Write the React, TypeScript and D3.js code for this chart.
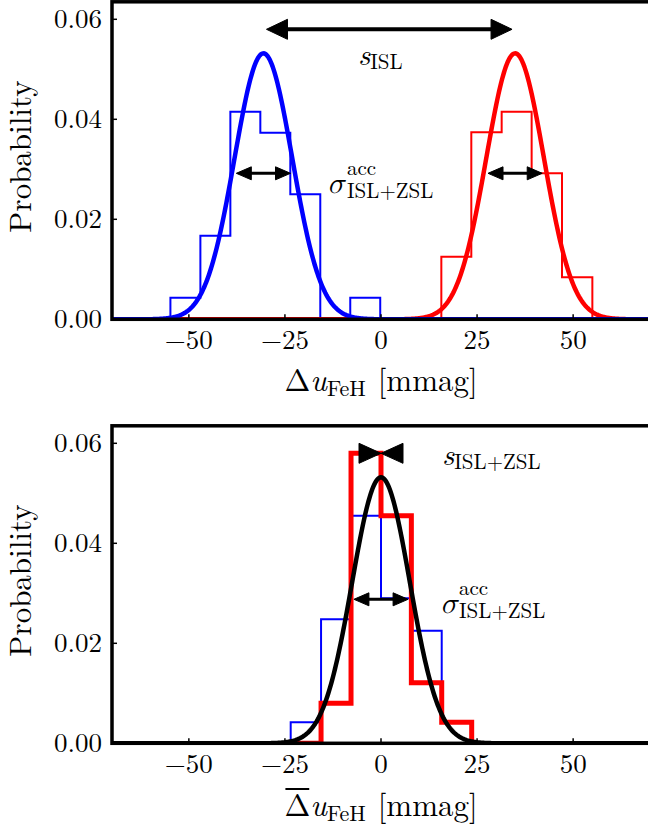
import React, { useEffect, useRef } from "react";
import * as d3 from "d3";

// ---------- data ----------
const xTicks = [-50, -25, 0, 25, 50];
const xTickLabels = ["\u221250", "\u221225", "0", "25", "50"];
const yTicks = [0, 0.02, 0.04, 0.06];
const yTickLabels = ["0.00", "0.02", "0.04", "0.06"];

// top panel histograms (density)
const topBlueEdges = [-54.8, -47.0, -39.2, -31.4, -23.6, -15.8, -8.0, -0.2];
const topBlueDensity = [0.0043, 0.0167, 0.0415, 0.0373, 0.025, 0, 0.0043];
const topRedEdges = [15.7, 23.5, 31.4, 39.2, 47.1, 55.0];
const topRedDensity = [0.0125, 0.0374, 0.0415, 0.0292, 0.0084];

// bottom panel histograms (density)
const botEdges = [-23.5, -15.6, -7.8, 0, 7.9, 15.8, 23.6];
const botBlueDensity = [0.0042, 0.0248, 0.0455, 0.029, 0.0225, 0.0042];
const botRedDensity = [0, 0.008, 0.058, 0.0455, 0.0121, 0.0042];

// gaussian fits: means and common width
const topMeans = [-30.6, 34.9]; // blue, red
const botMean = 0;
const gaussSigma = 7.5;

// annotation arrows (data coords)
const sepArrowX = [-29.8, 34.1];
const sepArrowY = 0.058;
const sigmaArrowHalf = 7.05;
const sigmaArrowY = 0.0292;
const botSigmaArrowY = 0.0288;
const botSepY = 0.058;

// ---------- layout ----------
const W = 648;
const H = 829;
const xMin = -70;
const xMax = 70;
const yMax = 0.0635;
const left = 112;
const right = 650;
const panels = [
  { top: 1.8, bottom: 319.3 },
  { top: 425.8, bottom: 743.3 },
];
const FONT = '"Latin Modern Roman", "Latin Modern Math", "STIX Two Text", "Liberation Serif", serif';
const GREEK = '"Latin Modern Math", "STIX Two Text", "Latin Modern Roman", "Liberation Serif", serif';
const fs = (size: number, extra: React.CSSProperties = {}): React.CSSProperties => ({
  fontFamily: FONT,
  fontSize: size + "px",
  ...extra,
});

const x = d3.scaleLinear().domain([xMin, xMax]).range([left, right]);
const yScales = panels.map((p) => d3.scaleLinear().domain([0, yMax]).range([p.bottom, p.top]));

const gaussX = d3.range(xMin, xMax + 0.001, 0.25);
const pdf = (v: number, mu: number, s: number) =>
  Math.exp(-((v - mu) ** 2) / (2 * s * s)) / (s * Math.sqrt(2 * Math.PI));

function stepPath(edges: number[], vals: number[], y: d3.ScaleLinear<number, number>) {
  const pts: [number, number][] = [[edges[0], 0]];
  vals.forEach((v, i) => {
    pts.push([edges[i], v]);
    pts.push([edges[i + 1], v]);
  });
  pts.push([edges[edges.length - 1], 0]);
  return d3.line<[number, number]>().x((d) => x(d[0])).y((d) => y(d[1]))(pts) || "";
}

function gaussPath(mu: number, y: d3.ScaleLinear<number, number>) {
  return (
    d3
      .line<number>()
      .x((d) => x(d))
      .y((d) => y(pdf(d, mu, gaussSigma)))(gaussX) || ""
  );
}

function Head({ tx, ty, dir, len, wid }: { tx: number; ty: number; dir: number; len: number; wid: number }) {
  const bx = tx - dir * len;
  return (
    <path
      d={`M${tx},${ty} L${bx},${ty - wid / 2} L${bx},${ty + wid / 2} Z`}
      fill="black"
      stroke="black"
      strokeWidth={1}
      strokeLinejoin="round"
    />
  );
}

function DoubleArrow({ x1, x2, yy, len, wid, lw }: { x1: number; x2: number; yy: number; len: number; wid: number; lw: number }) {
  return (
    <g>
      <line x1={x1 + len * 0.6} x2={x2 - len * 0.6} y1={yy} y2={yy} stroke="black" strokeWidth={lw} />
      <Head tx={x1} ty={yy} dir={-1} len={len} wid={wid} />
      <Head tx={x2} ty={yy} dir={1} len={len} wid={wid} />
    </g>
  );
}

function Axes({ idx }: { idx: number }) {
  const p = panels[idx];
  const y = yScales[idx];
  return (
    <g>
      {xTicks.map((t, i) => (
        <g key={"xt" + i}>
          <line x1={x(t)} x2={x(t)} y1={p.bottom} y2={p.bottom - 5} stroke="black" strokeWidth={1.5} />
          <text x={x(t)} y={p.bottom + 29.5} textAnchor="middle" style={fs(27)}>
            {xTickLabels[i]}
          </text>
        </g>
      ))}
      {yTicks.map((t, i) => (
        <g key={"yt" + i}>
          <line x1={left} x2={left + 5} y1={y(t)} y2={y(t)} stroke="black" strokeWidth={1.5} />
          <text x={102} y={y(t) + 9} textAnchor="end" style={fs(27)}>
            {yTickLabels[i]}
          </text>
        </g>
      ))}
      <rect x={left} y={p.top} width={right - left} height={p.bottom - p.top} fill="none" stroke="black" strokeWidth={3.5} />
      <text
        transform={`translate(31,${(p.top + p.bottom) / 2 - 4}) rotate(-90)`}
        textAnchor="middle"
        style={fs(31)}
      >
        Probability
      </text>
    </g>
  );
}

export default function App() {
  const botLabelRef = useRef<SVGTextElement>(null);
  const overRef = useRef<SVGLineElement>(null);

  useEffect(() => {
    const t = botLabelRef.current;
    const l = overRef.current;
    if (!t || !l) return;
    const place = () => {
      try {
        const ext = t.getExtentOfChar(0);
        d3.select(l)
          .attr("x1", ext.x + 1)
          .attr("x2", ext.x + ext.width - 1)
          .attr("y1", 789)
          .attr("y2", 789);
      } catch (e) {
        /* ignore */
      }
    };
    place();
    if ((document as any).fonts && (document as any).fonts.ready) {
      (document as any).fonts.ready.then(place);
    }
  }, []);

  const y0 = yScales[0];
  const y1 = yScales[1];
  const lbl = (yy: number, ref?: React.Ref<SVGTextElement>) => (
    <text ref={ref} x={381} y={yy} textAnchor="middle" style={fs(31)}>
      <tspan style={{ fontFamily: GREEK }}>Δ</tspan>
      <tspan style={{ fontStyle: "italic" }}>u</tspan>
      <tspan style={{ fontSize: "22px" }} dy={5}>FeH</tspan>
      <tspan dy={-5} dx={12}>[mmag]</tspan>
    </text>
  );

  return (
    <svg
      width={W}
      height={H}
      viewBox={`0 0 ${W} ${H}`}
      style={{ position: "absolute", left: 0, top: 0, background: "white" }}
    >
      <defs>
        {panels.map((p, i) => (
          <clipPath id={"clip" + i} key={i}>
            <rect x={left} y={p.top} width={right - left} height={p.bottom - p.top} />
          </clipPath>
        ))}
      </defs>

      {/* top panel */}
      <g clipPath="url(#clip0)">
        <path d={stepPath(topBlueEdges, topBlueDensity, y0)} fill="none" stroke="#0000ff" strokeWidth={2} />
        <path d={stepPath(topRedEdges, topRedDensity, y0)} fill="none" stroke="#ff0000" strokeWidth={2} />
        <path d={gaussPath(topMeans[1], y0)} fill="none" stroke="#ff0000" strokeWidth={4.5} />
        <path d={gaussPath(topMeans[0], y0)} fill="none" stroke="#0000ff" strokeWidth={4.5} />
      </g>
      <Axes idx={0} />
      <DoubleArrow x1={x(sepArrowX[0])} x2={x(sepArrowX[1])} yy={y0(sepArrowY)} len={21} wid={20} lw={4} />
      {topMeans.map((m, i) => (
        <DoubleArrow
          key={"sa" + i}
          x1={x(m - sigmaArrowHalf)}
          x2={x(m + sigmaArrowHalf)}
          yy={y0(sigmaArrowY)}
          len={15}
          wid={13}
          lw={3}
        />
      ))}
      <text x={358} y={65} style={fs(30)}>
        <tspan style={{ fontStyle: "italic" }}>s</tspan>
        <tspan style={{ fontSize: "21px" }} dy={4}>ISL</tspan>
      </text>
      <text x={327} y={193} style={{ fontFamily: GREEK, fontSize: "30px", fontStyle: "italic" }}>σ</text>
      <text x={347} y={175} style={fs(21)}>acc</text>
      <text x={347} y={198} style={fs(21)}>ISL+ZSL</text>
      {lbl(391)}

      {/* bottom panel */}
      <g clipPath="url(#clip1)">
        <path d={stepPath(botEdges, botBlueDensity, y1)} fill="none" stroke="#0000ff" strokeWidth={2} />
        <path d={stepPath(botEdges, botRedDensity, y1)} fill="none" stroke="#ff0000" strokeWidth={5} />
        <path d={gaussPath(botMean, y1)} fill="none" stroke="black" strokeWidth={4.5} />
      </g>
      <Axes idx={1} />
      <Head tx={x(botMean)} ty={y1(botSepY)} dir={1} len={22} wid={20} />
      <Head tx={x(botMean)} ty={y1(botSepY)} dir={-1} len={22} wid={20} />
      <DoubleArrow
        x1={x(botMean - sigmaArrowHalf)}
        x2={x(botMean + sigmaArrowHalf)}
        yy={y1(botSigmaArrowY)}
        len={15}
        wid={13}
        lw={3}
      />
      <text x={442} y={465} style={fs(30)}>
        <tspan style={{ fontStyle: "italic" }}>s</tspan>
        <tspan style={{ fontSize: "21px" }} dy={4}>ISL+ZSL</tspan>
      </text>
      <text x={440} y={613} style={{ fontFamily: GREEK, fontSize: "30px", fontStyle: "italic" }}>σ</text>
      <text x={459} y={595} style={fs(21)}>acc</text>
      <text x={459} y={618} style={fs(21)}>ISL+ZSL</text>
      {lbl(816, botLabelRef)}
      <line ref={overRef} x1={279} x2={304} y1={789} y2={789} stroke="black" strokeWidth={2} />
    </svg>
  );
}
